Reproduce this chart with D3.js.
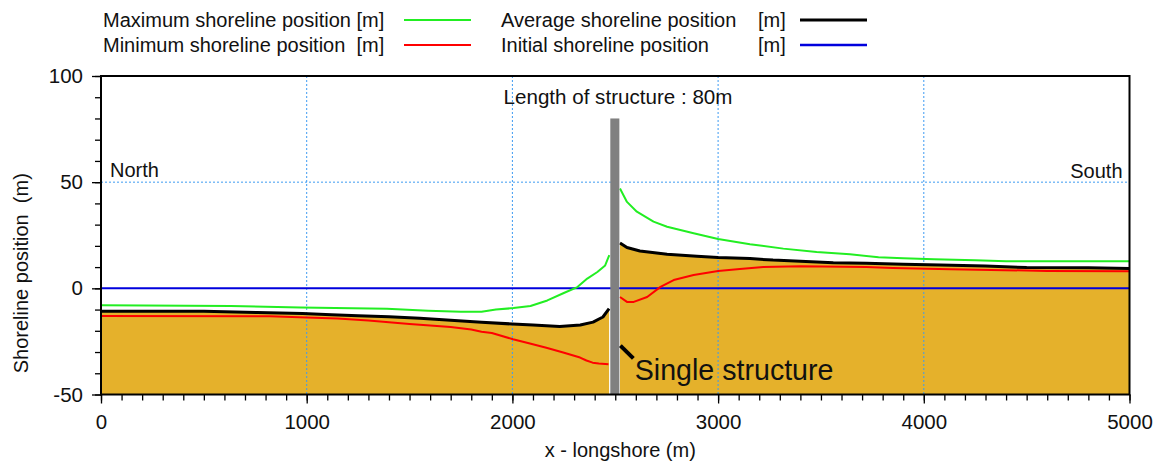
<!DOCTYPE html>
<html>
<head>
<meta charset="utf-8">
<script src="https://cdn.jsdelivr.net/npm/d3@7"></script>
<style>
  html, body { margin: 0; padding: 0; background: #fff; }
  svg { display: block; font-family: "Liberation Sans", Arial, sans-serif; }
</style>
</head>
<body>
<svg id="chart" width="1170" height="464"></svg>
<script>
// Shoreline evolution around a single structure (x in m alongshore, y in m)

// Axis ticks
const xTicks = [0, 1000, 2000, 3000, 4000, 5000];
const yTicks = [-50, 0, 50, 100];

// Maximum shoreline position, north and south of the structure
const maxLeftX  = [0, 630, 970, 1390, 1590, 1750, 1850, 1920, 2005, 2088, 2170, 2250, 2316, 2364, 2413, 2451, 2471];
const maxLeftY  = [-8.0, -8.3, -9.0, -9.6, -10.5, -11.0, -11.0, -10.0, -9.3, -8.3, -5.7, -2.2, 0.6, 4.6, 7.7, 10.8, 15.6];
const maxRightX = [2523, 2557, 2605, 2686, 2752, 2881, 3000, 3155, 3317, 3479, 3641, 3780, 3900, 4050, 4250, 4400, 5000];
const maxRightY = [47.0, 40.7, 36.1, 31.4, 29.0, 25.9, 23.2, 20.8, 18.7, 17.1, 16.0, 14.6, 14.2, 13.7, 13.2, 12.7, 12.7];

// Minimum shoreline position
const minLeftX  = [0, 820, 1000, 1150, 1300, 1400, 1500, 1600, 1700, 1800, 1850, 1900, 2003, 2085, 2165, 2247, 2329, 2360, 2390, 2420, 2467];
const minLeftY  = [-13.0, -13.2, -13.7, -14.2, -15.2, -16.0, -16.8, -17.5, -18.2, -19.4, -20.4, -21.0, -24.0, -26.0, -28.0, -30.2, -32.6, -34.0, -35.0, -35.4, -35.7];
const minRightX = [2523, 2557, 2590, 2655, 2720, 2784, 2881, 3000, 3106, 3220, 3400, 3720, 3850, 4130, 4600, 5000];
const minRightY = [-4.1, -6.4, -6.4, -4.1, 0.7, 3.9, 6.3, 8.2, 9.1, 10.1, 10.4, 10.1, 9.6, 9.0, 8.2, 8.0];

// Average shoreline position (the beach fill lies below it)
const avgLeftX  = [0, 500, 760, 980, 1120, 1250, 1400, 1550, 1700, 1850, 2000, 2100, 2230, 2330, 2392, 2440, 2470];
const avgLeftY  = [-10.8, -10.8, -11.4, -11.9, -12.4, -12.9, -13.4, -14.1, -15.0, -16.0, -16.8, -17.3, -18.0, -17.3, -15.9, -13.5, -9.6];
const avgRightX = [2523, 2557, 2620, 2752, 2897, 3000, 3155, 3267, 3400, 3560, 3720, 3900, 4080, 4300, 4500, 4800, 5000];
const avgRightY = [21.4, 19.2, 17.6, 16.1, 15.1, 14.5, 14.0, 13.3, 12.8, 12.1, 11.8, 11.4, 11.0, 10.5, 9.8, 9.7, 9.3];

// Initial shoreline position
const initX = [0, 5000];
const initY = [0, 0];

// Structure: alongshore extent and length (m)
const structX = [2476, 2520];
const structLength = 80;

const zip = (xs, ys) => xs.map((x, i) => ({ x, y: ys[i] }));
const fmt = v => String(v);   // plain hyphen for negatives

const svg = d3.select("#chart");
const plotL = 101, plotR = 1129.5, plotT = 76, plotB = 394.5;

const x = d3.scaleLinear().domain([0, 5000]).range([plotL, plotR]);
const y = d3.scaleLinear().domain([-50, 100]).range([plotB, plotT]);

const line = d3.line().x(d => x(d.x)).y(d => y(d.y));
const area = d3.area().x(d => x(d.x)).y0(y(-50)).y1(d => y(d.y));

// Beach fill under the average shoreline
const sand = "#E5B12B";
[zip(avgLeftX, avgLeftY), zip(avgRightX, avgRightY)].forEach(seg => {
  svg.append("path").attr("d", area(seg)).attr("fill", sand);
});

// Dotted grid
const grid = svg.append("g").attr("stroke", "#3D9BF2").attr("stroke-width", 1)
  .attr("stroke-dasharray", "2,2");
[1000, 2000, 3000, 4000].forEach(v => {
  grid.append("line").attr("x1", x(v)).attr("x2", x(v)).attr("y1", plotT).attr("y2", plotB);
});
[50].forEach(v => {
  grid.append("line").attr("x1", plotL).attr("x2", plotR).attr("y1", y(v)).attr("y2", y(v));
});

// Shoreline series
function drawSeries(xs, ys, color, width) {
  svg.append("path").attr("d", line(zip(xs, ys)))
    .attr("fill", "none").attr("stroke", color).attr("stroke-width", width)
    .attr("stroke-linejoin", "round");
}
drawSeries(initX, initY, "#0000DD", 2);
drawSeries(minLeftX, minLeftY, "#FF0000", 2);
drawSeries(minRightX, minRightY, "#FF0000", 2);
drawSeries(maxLeftX, maxLeftY, "#22EE22", 2);
drawSeries(maxRightX, maxRightY, "#22EE22", 2);
drawSeries(avgLeftX, avgLeftY, "#000000", 3);
drawSeries(avgRightX, avgRightY, "#000000", 3);

// Structure
svg.append("rect")
  .attr("x", x(structX[0])).attr("width", x(structX[1]) - x(structX[0]))
  .attr("y", y(structLength)).attr("height", y(-50) - y(structLength))
  .attr("fill", "#808080");

// Plot frame
svg.append("rect").attr("x", plotL).attr("y", plotT)
  .attr("width", plotR - plotL).attr("height", plotB - plotT)
  .attr("fill", "none").attr("stroke", "#000").attr("stroke-width", 2);

// Axes with major and minor ticks
const axisColor = "#000";
const xAxis = svg.append("g").attr("transform", `translate(0,${plotB})`);
xAxis.call(d3.axisBottom(x).tickValues(d3.range(0, 5001, 100)).tickSize(6).tickFormat(""))
  .call(g => g.select(".domain").remove());
xAxis.append("g")
  .call(d3.axisBottom(x).tickValues(xTicks).tickSize(9).tickPadding(11).tickFormat(fmt))
  .call(g => g.select(".domain").remove())
  .call(g => g.selectAll("text").attr("font-size", 20.5).attr("fill", "#111")
        .attr("font-family", "Liberation Sans, Arial, sans-serif"));
xAxis.selectAll("line").attr("stroke", axisColor).attr("stroke-width", 1.3);

const yAxis = svg.append("g").attr("transform", `translate(${plotL},0)`);
yAxis.call(d3.axisLeft(y).tickValues(d3.range(-50, 101, 10)).tickSize(6).tickFormat(""))
  .call(g => g.select(".domain").remove());
yAxis.append("g")
  .call(d3.axisLeft(y).tickValues(yTicks).tickSize(9).tickPadding(9).tickFormat(fmt))
  .call(g => g.select(".domain").remove())
  .call(g => g.selectAll("text").attr("font-size", 20.5).attr("fill", "#111")
        .attr("font-family", "Liberation Sans, Arial, sans-serif"));
yAxis.selectAll("line").attr("stroke", axisColor).attr("stroke-width", 1.3);

// Axis titles
svg.append("text").attr("x", (plotL + plotR) / 2 + 5).attr("y", 457)
  .attr("text-anchor", "middle").attr("font-size", 20).attr("fill", "#111")
  .text("x - longshore (m)");
svg.append("text")
  .attr("transform", `translate(28,${(plotT + plotB) / 2 + 38}) rotate(-90)`)
  .attr("text-anchor", "middle").attr("font-size", 20).attr("fill", "#111")
  .attr("xml:space", "preserve")
  .text("Shoreline position  (m)");

// Annotations
svg.append("text").attr("x", 618).attr("y", 104)
  .attr("text-anchor", "middle").attr("font-size", 20.6).attr("fill", "#111")
  .text(`Length of structure : ${structLength}m`);
svg.append("text").attr("x", plotL + 9).attr("y", 177)
  .attr("font-size", 20).attr("fill", "#111").text("North");
svg.append("text").attr("x", plotR - 7).attr("y", 178).attr("text-anchor", "end")
  .attr("font-size", 20).attr("fill", "#111").text("South");
svg.append("line")
  .attr("x1", x(2525)).attr("y1", y(-27)).attr("x2", x(2588)).attr("y2", y(-33))
  .attr("stroke", "#000").attr("stroke-width", 4);
svg.append("text").attr("x", x(2595)).attr("y", 380)
  .attr("font-size", 28.6).attr("fill", "#111").text("Single structure");

// Legend
const legend = [
  { label: "Maximum shoreline position [m]", unit: "", color: "#22EE22", w: 2, lx: 103, ly: 27, sx: 404 },
  { label: "Minimum shoreline position  [m]", unit: "", color: "#FF0000", w: 2, lx: 103, ly: 52, sx: 404 },
  { label: "Average shoreline position", unit: "[m]", color: "#000000", w: 3, lx: 501, ly: 27, sx: 800 },
  { label: "Initial shoreline position", unit: "[m]", color: "#0000DD", w: 2.5, lx: 501, ly: 52, sx: 800 }
];
const lg = svg.append("g");
legend.forEach(d => {
  lg.append("text").attr("x", d.lx).attr("y", d.ly).attr("font-size", 20).attr("fill", "#111")
    .attr("xml:space", "preserve").text(d.label);
  if (d.unit) {
    lg.append("text").attr("x", 758).attr("y", d.ly).attr("font-size", 20).attr("fill", "#111").text(d.unit);
  }
  lg.append("line").attr("x1", d.sx).attr("x2", d.sx + 67).attr("y1", d.ly - 7).attr("y2", d.ly - 7)
    .attr("stroke", d.color).attr("stroke-width", d.w);
});
</script>
</body>
</html>
